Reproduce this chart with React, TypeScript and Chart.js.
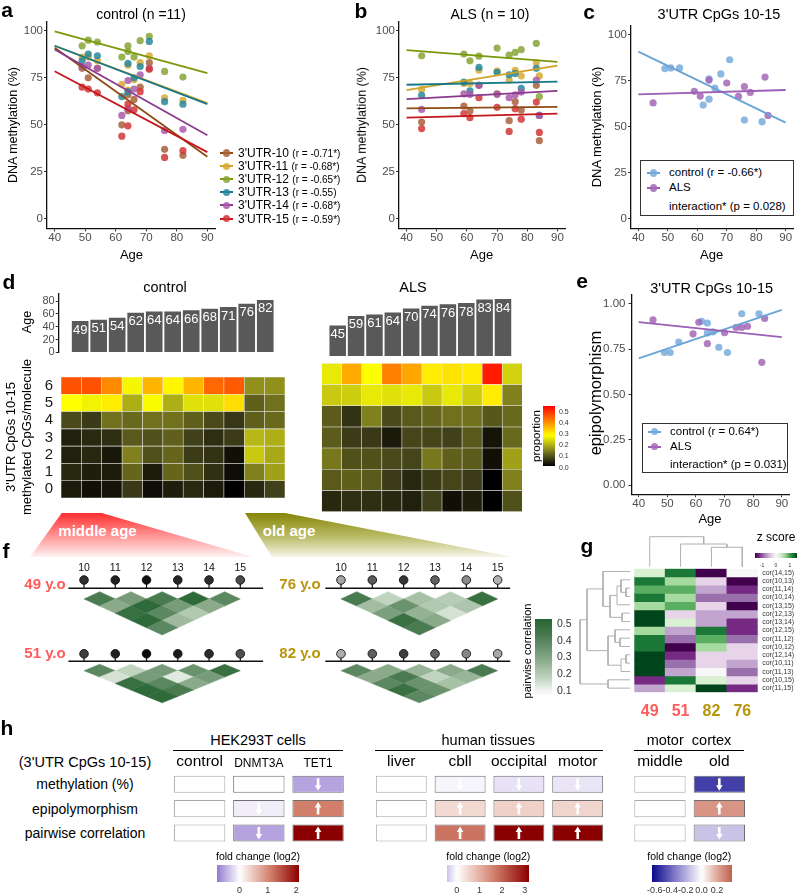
import React, { useEffect, useRef } from 'react';
import { Chart, registerables } from 'chart.js';

Chart.register(...registerables);

const FONT = "'Liberation Sans', Arial, Helvetica, sans-serif";

/* ======================= DATA ======================= */
// panels a / b : methylation per CpG
const cpgLabels = ["3'UTR-10", "3'UTR-11", "3'UTR-12", "3'UTR-13", "3'UTR-14", "3'UTR-15"];
const cpgCorr = ['(r = -0.71*)', '(r = -0.68*)', '(r = -0.65*)', '(r = -0.55)', '(r = -0.68*)', '(r = -0.59*)'];
const controlAges = [49, 51, 54, 62, 64, 64, 66, 68, 71, 76, 82];
const alsAges = [45, 59, 61, 64, 70, 74, 76, 78, 83, 84];
const ctrlCpg10 = [80, 75, 80, 50, 66, 57.5, 63.5, 70, 83, 37, 33.8];
const ctrlCpg11 = [86, 86, 84, 71.5, 81.6, 68.5, 74, 83, 86.7, 64.4, 63];
const ctrlCpg12 = [92, 95, 94, 86, 92, 89, 86, 94.7, 97, 78.4, 75.4];
const ctrlCpg13 = [84, 87.6, 86.7, 65, 82.6, 67.6, 75, 81, 94.3, 62.3, 61];
const ctrlCpg14 = [81, 81.8, 80, 55, 73.5, 58.6, 69, 76.6, 80, 47, 47.6];
const ctrlCpg15 = [70, 69, 67, 44, 61, 49.5, 58, 67.6, 79.5, 32.7, 36.3];
const alsCpg10 = [51.5, 60, 57.3, 71, 66.5, 52.2, 62.3, 57.9, 71, 41.6];
const alsCpg11 = [68.8, 72, 72, 79, 78.6, 73.8, 79, 76, 83, 76];
const alsCpg12 = [86.7, 87.6, 84, 86.5, 90.8, 87, 88.5, 90, 93.3, 65];
const alsCpg13 = [65.7, 72.7, 68, 80.5, 77.9, 76.6, 77.3, 69.4, 80, 55];
const alsCpg14 = [58.2, 66.4, 66.2, 71, 66.2, 64.4, 66, 67.4, 73.8, 55];
const alsCpg15 = [48, 56, 53.8, 64.4, 59.3, 46.5, 58.6, 53, 62.1, 46];
const ctrlFitAt40 = [91, 92, 99.7, 92, 90, 78.5];
const ctrlFitAt90 = [33, 61.5, 77.5, 61, 44.5, 35.5];
const alsFitAt40 = [58.8, 68.5, 89.7, 71.3, 63.7, 53.8];
const alsFitAt90 = [59.5, 81.5, 83.5, 73, 68, 56];
const ageTicks = [40, 50, 60, 70, 80, 90];
const pctTicks = [0, 25, 50, 75, 100];

// panel c : mean methylation CpGs 10-15
const ctrlMeanMeth = [81.6, 82, 82, 61.8, 76, 65, 71, 78.7, 86.4, 53.7, 52.8];
const alsMeanMeth = [63, 69.3, 66.7, 75.4, 73.8, 66.5, 71.8, 68.7, 77, 56.2];
const methFitAt40 = [90.8, 67.6];
const methFitAt90 = [52.3, 70];
const cLegend = ['control (r = -0.66*)', 'ALS', 'interaction* (p = 0.028)'];

// panel e : epipolymorphism
const ctrlEpi = [0.732, 0.732, 0.79, 0.904, 0.895, 0.84, 0.846, 0.761, 0.732, 0.946, 0.946];
const alsEpi = [0.912, 0.835, 0.899, 0.781, 0.841, 0.87, 0.87, 0.877, 0.678, 0.92];
const epiFitAt40 = [0.7, 0.9];
const epiFitAt90 = [0.967, 0.817];
const epiTicks = [0, 0.25, 0.5, 0.75, 1];
const eLegend = ['control (r = 0.64*)', 'ALS', 'interaction* (p = 0.031)'];

// panel d : methylated CpGs / molecule proportions (rows 0..6)
const barTicks = [0, 20, 40, 60, 80];
const molRows = [0, 1, 2, 3, 4, 5, 6];
const ctrlProp = [
  [0.03, 0.018, 0.022, 0.062, 0.014, 0.033, 0.045, 0.03, 0.0, 0.044, 0.07],
  [0.044, 0.033, 0.03, 0.11, 0.03, 0.11, 0.088, 0.053, 0.015, 0.14, 0.175],
  [0.035, 0.044, 0.027, 0.14, 0.088, 0.11, 0.065, 0.055, 0.018, 0.22, 0.185],
  [0.035, 0.045, 0.05, 0.097, 0.088, 0.105, 0.07, 0.05, 0.065, 0.2, 0.19],
  [0.08, 0.063, 0.123, 0.115, 0.123, 0.123, 0.105, 0.08, 0.06, 0.105, 0.115],
  [0.28, 0.265, 0.3, 0.19, 0.275, 0.19, 0.245, 0.245, 0.315, 0.105, 0.123],
  [0.465, 0.465, 0.404, 0.27, 0.36, 0.29, 0.36, 0.44, 0.455, 0.158, 0.158],
];
const alsProp = [
  [0.044, 0.05, 0.05, 0.044, 0.035, 0.07, 0.018, 0.033, 0.0, 0.088],
  [0.097, 0.105, 0.097, 0.065, 0.044, 0.065, 0.075, 0.065, 0.0, 0.14],
  [0.13, 0.088, 0.088, 0.08, 0.075, 0.13, 0.105, 0.1, 0.018, 0.175],
  [0.1, 0.065, 0.062, 0.028, 0.075, 0.075, 0.07, 0.097, 0.022, 0.115],
  [0.1, 0.055, 0.14, 0.08, 0.097, 0.11, 0.123, 0.123, 0.095, 0.115],
  [0.22, 0.225, 0.255, 0.245, 0.255, 0.22, 0.255, 0.225, 0.3, 0.14],
  [0.255, 0.37, 0.28, 0.415, 0.375, 0.3, 0.31, 0.3, 0.52, 0.23],
];
const propTicks = [0, 0.1, 0.2, 0.3, 0.4, 0.5];

// panel f : pairwise correlations
const cpgNums = [10, 11, 12, 13, 14, 15];
const cpgPairs = [[10, 11], [11, 12], [12, 13], [13, 14], [14, 15], [10, 12], [11, 13], [12, 14], [13, 15], [10, 13], [11, 14], [12, 15], [10, 14], [11, 15], [10, 15]];
const corr49 = [0.42, 0.32, 0.42, 0.5, 0.38, 0.28, 0.5, 0.32, 0.28, 0.47, 0.38, 0.2, 0.5, 0.24, 0.38];
const corr51 = [0.38, 0.17, 0.32, 0.35, 0.47, 0.14, 0.32, 0.12, 0.32, 0.47, 0.38, 0.28, 0.5, 0.42, 0.5];
const corr76 = [0.42, 0.17, 0.22, 0.19, 0.47, 0.23, 0.35, 0.2, 0.21, 0.31, 0.26, 0.14, 0.47, 0.28, 0.42];
const corr82 = [0.38, 0.28, 0.25, 0.28, 0.42, 0.28, 0.42, 0.17, 0.25, 0.38, 0.35, 0.22, 0.47, 0.35, 0.38];
const corrTicks = [0.1, 0.2, 0.3, 0.4, 0.5];

// panel g : z scores
const gColLabels = ['49', '51', '82', '76'];
const gRowLabels = ['cor(14,15)', 'cor(10,13)', 'cor(11,14)', 'cor(10,14)', 'cor(13,15)', 'cor(12,13)', 'cor(13,14)', 'cor(12,15)', 'cor(11,12)', 'cor(10,12)', 'cor(12,14)', 'cor(10,11)', 'cor(11,13)', 'cor(10,15)', 'cor(11,15)'];
const z49 = [0.3, 1.2, 0.9, 1.2, 0.6, 1.5, 1.5, 0.6, 1.2, 1.2, 1.5, 1.5, 1.5, -1.2, -0.6];
const z51 = [1.2, 0.6, 0.9, 0.6, 0.9, -0.3, 0.3, -0.6, -0.9, -1.5, -1.2, -0.9, -0.6, 1.2, 0.3];
const z82 = [-1.5, -0.3, -0.6, -0.9, -0.3, -0.6, -0.6, 1.2, 0.9, 0.6, -0.3, -0.3, 0.0, 0.3, 1.5];
const z76 = [0.0, -1.5, -1.2, -0.9, -1.5, -0.6, -1.2, -1.2, -0.9, -0.3, -0.3, -0.6, -0.9, -0.3, -1.2];
const gColMerges = [[2, 3, 1.94], [1, 4, 2.27], [0, 5, 3.0]];
const gRowMerges = [[2, 3, 0.4], [1, 15, 0.9], [4, 16, 1.3], [5, 6, 0.8], [17, 18, 2.0], [0, 19, 2.7], [10, 11, 0.4], [12, 21, 0.9], [8, 9, 1.0], [7, 23, 1.5], [24, 22, 2.2], [20, 25, 4.3], [13, 14, 2.2], [26, 27, 5.0]];
const zTicks = [-1, 0, 1];

// panel h : fold changes (log2)
const hRowLabels = ['methylation (%)', 'epipolymorphism', 'pairwise correlation'];
const hekCols = ['control', 'DNMT3A', 'TET1'];
const hekMeth = [0, 0.01, -0.55];
const hekEpi = [0, -0.1, 1.1];
const hekPair = [0, -0.55, 2.1];
const tisCols = ['liver', 'cbll', 'occipital', 'motor'];
const tisMeth = [0, -0.07, -0.2, -0.18];
const tisEpi = [0, 0.5, 0.6, 0.55];
const tisPair = [0, 1.8, 3.2, 3.2];
const motCols = ['middle', 'old'];
const motMeth = [0, -0.5];
const motEpi = [0, 0.25];
const motPair = [0, -0.15];
const hekTicks = [0, 1, 2];
const tisTicks = [0, 1, 2, 3];
const motTicks = [-0.6, -0.4, -0.2, 0, 0.2];

/* ======================= STYLE ======================= */
const cpgLineColors = ['#8f4b16', '#d1a325', '#7a980b', '#17788a', '#8b3a8e', '#c4161c'];
const cpgDotColors = ['rgba(168,98,60,0.85)', 'rgba(215,170,50,0.85)', 'rgba(135,165,55,0.85)', 'rgba(40,135,155,0.85)', 'rgba(170,90,170,0.85)', 'rgba(210,55,55,0.85)'];
const grpLineColors = ['#6aa4d7', '#9b5fb5'];
const grpDotColors = ['rgba(120,172,220,0.85)', 'rgba(163,103,183,0.85)'];
const propStops: [number, string][] = [[0, '#000000'], [0.035, '#20200e'], [0.07, '#40401a'], [0.14, '#80801e'], [0.21, '#c0c014'], [0.28, '#ffff00'], [0.415, '#ff8000'], [0.55, '#ff0000']];
const corrStops: [number, string][] = [[0.06, '#ffffff'], [0.1, '#eef3ee'], [0.17, '#c0d4c0'], [0.28, '#8aaa8a'], [0.42, '#4a7a50'], [0.5, '#2e6a3a'], [0.55, '#1d5a2c']];
const zStops: [number, string][] = [[-1.5, '#40004b'], [-1.2, '#762a83'], [-0.9, '#9970ab'], [-0.6, '#c2a5cf'], [-0.3, '#e7d4e8'], [0, '#f7f7f7'], [0.3, '#d9f0d3'], [0.6, '#a6dba0'], [0.9, '#5aae61'], [1.2, '#1b7837'], [1.5, '#00441b']];
const hekStops: [number, string][] = [[-0.8, '#9279cf'], [0, '#ffffff'], [1.05, '#d48470'], [2.1, '#8b0000']];
const tisStops: [number, string][] = [[-0.42, '#cdc3eb'], [0, '#ffffff'], [1.6, '#d48470'], [3.2, '#8b0000']];
const motStops: [number, string][] = [[-0.64, '#0a0a8c'], [-0.32, '#8b82cc'], [0, '#ffffff'], [0.2, '#e0a898'], [0.39, '#c0604f']];
const gColColors = ['#ff5b5b', '#ff5b5b', '#b8950b', '#b8950b'];
const hekColSizes = [15.5, 12, 12];

/* ======================= HELPERS ======================= */
function hex(c: string) { const n = parseInt(c.slice(1), 16); return [(n >> 16) & 255, (n >> 8) & 255, n & 255]; }
function ramp(stops: [number, string][], v: number): string {
  if (v <= stops[0][0]) return stops[0][1];
  for (let i = 1; i < stops.length; i++) {
    if (v <= stops[i][0]) {
      const [v0, c0] = stops[i - 1];
      const [v1, c1] = stops[i];
      const t = (v - v0) / (v1 - v0);
      const a = hex(c0), b = hex(c1);
      return `rgb(${a.map((x, j) => Math.round(x + (b[j] - x) * t)).join(',')})`;
    }
  }
  return stops[stops.length - 1][1];
}
const greyOf = (m: number) => { const g = Math.max(0, Math.min(235, Math.round(265 - m * 2.7))); return `rgb(${g},${g},${g})`; };

type Box = { x: number; y: number; w: number; h: number };
type Area = { l: number; t: number; r: number; b: number };
type Side = 'left' | 'right' | 'top' | 'bottom';

// The chart area is fixed: displayed axes get exactly the band between canvas edge and area.
const base = (box: Box, a: Area, sides: Side[] = []) => {
  const p: any = { left: a.l - box.x, top: a.t - box.y, right: box.x + box.w - a.r, bottom: box.y + box.h - a.b };
  sides.forEach((s) => { p[s] = 0; });
  return {
    responsive: false,
    animation: false,
    events: [],
    layout: { padding: p },
    plugins: { legend: { display: false }, tooltip: { enabled: false } },
  };
};
const fitSide = (box: Box, a: Area, side: Side) => (s: any) => {
  if (side === 'left') s.width = a.l - box.x;
  else if (side === 'right') s.width = box.x + box.w - a.r;
  else if (side === 'top') s.height = a.t - box.y;
  else s.height = box.y + box.h - a.b;
};
function axisOpts(min: number, max: number, ticks: number[], fmt: (v: number) => string, pad: number, fit: (s: any) => void, size = 11.5) {
  return {
    type: 'linear', min, max, afterFit: fit,
    afterBuildTicks: (s: any) => { s.ticks = ticks.map((value) => ({ value })); },
    ticks: { callback: (v: any) => fmt(Number(v)), font: { family: FONT, size }, color: '#4d4d4d', padding: pad, autoSkip: false, maxRotation: 0 },
    grid: { display: true, drawOnChartArea: false, drawTicks: true, tickLength: 3, color: '#333', lineWidth: 1 },
    border: { display: true, color: '#111', width: 1.3 },
  };
}

function fitChart(box: Box, area: Area, xsList: number[][], ysList: number[][], f40: number[], f90: number[], lineCols: string[], dotCols: string[], yMin: number, yMax: number, yTicks: number[], yDigits: number, yPad: number) {
  const lines: any[] = [];
  const pts: any[] = [];
  for (let k = ysList.length - 1; k >= 0; k--) {
    lines.push({ data: [{ x: 40, y: f40[k] }, { x: 90, y: f90[k] }], showLine: true, borderColor: lineCols[k], borderWidth: 1.8, pointRadius: 0, clip: false });
    pts.push({ data: xsList[k].map((x, i) => ({ x, y: ysList[k][i] })), showLine: false, pointRadius: 3.6, backgroundColor: dotCols[k], pointBackgroundColor: dotCols[k], pointBorderWidth: 0, borderWidth: 0, clip: false });
  }
  return {
    type: 'scatter',
    data: { datasets: [...lines, ...pts] },
    options: {
      ...base(box, area, ['left', 'bottom']),
      scales: {
        x: axisOpts(37.5, 92.5, ageTicks, (v) => String(v), 0, fitSide(box, area, 'bottom')),
        y: axisOpts(yMin, yMax, yTicks, (v) => v.toFixed(yDigits), yPad, fitSide(box, area, 'left')),
      },
    },
  };
}

const barLabelPlugin = {
  id: 'barLabels',
  afterDatasetsDraw(chart: any) {
    const ctx = chart.ctx;
    const meta = chart.getDatasetMeta(0);
    const ds = chart.data.datasets[0];
    ctx.save();
    ctx.fillStyle = '#ffffff';
    ctx.font = `13px ${FONT}`;
    ctx.textAlign = 'center';
    ctx.textBaseline = 'middle';
    meta.data.forEach((el: any, i: number) => ctx.fillText(String(ds.data[i].y), el.x, el.y + 9));
    ctx.restore();
  },
};

function ageBars(box: Box, area: Area, ages: number[], showAxis: boolean) {
  return {
    type: 'bar',
    data: { datasets: [{ data: ages.map((a, i) => ({ x: i + 1, y: a })), backgroundColor: '#595959', barPercentage: 0.9, categoryPercentage: 1, borderWidth: 0 }] },
    options: {
      ...base(box, area, showAxis ? ['left'] : []),
      scales: {
        x: { type: 'linear', min: 0.4, max: ages.length + 0.6, display: false, afterBuildTicks: (s: any) => { s.ticks = ages.map((_, i) => ({ value: i + 1 })); } },
        y: showAxis ? axisOpts(0, 92.3, barTicks, (v) => String(v), 1, fitSide(box, area, 'left'), 11) : { type: 'linear', min: 0, max: 92.3, display: false },
      },
    },
    plugins: [barLabelPlugin],
  };
}

function propHeat(box: Box, area: Area, ages: number[], prop: number[][], showLabels: boolean) {
  return {
    type: 'bar',
    data: {
      labels: ages.map(String),
      datasets: molRows.map((r) => ({
        data: ages.map(() => [r - 0.5, r + 0.5]),
        backgroundColor: prop[r].map((v) => ramp(propStops, v)),
        borderColor: 'rgba(225,225,225,0.45)', borderWidth: 0.6, borderSkipped: false,
        grouped: false, barPercentage: 1, categoryPercentage: 1,
      })),
    },
    options: {
      ...base(box, area, showLabels ? ['left'] : []),
      scales: {
        x: { type: 'category', offset: true, display: false },
        y: {
          type: 'linear', min: -0.5, max: 6.5, display: showLabels, afterFit: fitSide(box, area, 'left'),
          afterBuildTicks: (s: any) => { s.ticks = molRows.map((value) => ({ value })); },
          ticks: { callback: (v: any) => String(v), font: { family: FONT, size: 15 }, color: '#1a1a1a', padding: 8, autoSkip: false },
          grid: { display: false, drawTicks: false }, border: { display: false },
        },
      },
    },
  };
}

const diamondPlugin = (pairs: number[][], vals: number[]) => ({
  id: 'diamonds',
  afterDatasetsDraw(chart: any) {
    const { ctx, scales } = chart;
    const sx = scales.x, sy = scales.y;
    ctx.save();
    pairs.forEach(([i, j], k) => {
      const xc = (i + j) / 2, d = j - i;
      const pts = [[xc - 0.5, -d], [xc, -d + 1], [xc + 0.5, -d], [xc, -d - 1]];
      ctx.beginPath();
      pts.forEach(([px, py], m) => {
        const X = sx.getPixelForValue(px), Y = sy.getPixelForValue(py);
        if (m) ctx.lineTo(X, Y); else ctx.moveTo(X, Y);
      });
      ctx.closePath();
      const col = ramp(corrStops, vals[k]);
      ctx.fillStyle = col; ctx.fill();
      ctx.strokeStyle = col; ctx.lineWidth = 0.5; ctx.stroke();
    });
    ctx.restore();
  },
});

const CIRCLE_Y = 1.625, LINE_Y = 0.47;
function lollipop(box: Box, area: Area, xMax: number, meth: number[], corr: number[], showNums: boolean) {
  const datasets: any[] = [];
  datasets.push({ data: cpgNums.map((c) => ({ x: c, y: CIRCLE_Y })), showLine: false, pointRadius: 4.3, pointBackgroundColor: meth.map(greyOf), pointBorderColor: '#111', pointBorderWidth: 0.9, clip: false });
  cpgNums.forEach((c) => datasets.push({ data: [{ x: c, y: CIRCLE_Y }, { x: c, y: LINE_Y }], showLine: true, borderColor: '#111', borderWidth: 1.2, pointRadius: 0, clip: false }));
  datasets.push({ data: [{ x: 9.5, y: LINE_Y }, { x: xMax, y: LINE_Y }], showLine: true, borderColor: '#111', borderWidth: 1.4, pointRadius: 0, clip: false });
  return {
    type: 'scatter',
    data: { datasets },
    options: {
      ...base(box, area, showNums ? ['top'] : []),
      scales: {
        x: {
          type: 'linear', min: 9.5, max: xMax, position: 'top', display: showNums, afterFit: fitSide(box, area, 'top'),
          afterBuildTicks: (s: any) => { s.ticks = cpgNums.map((value) => ({ value })); },
          ticks: { callback: (v: any) => String(v), font: { family: FONT, size: 10.5 }, color: '#111', padding: 0, autoSkip: false, maxRotation: 0 },
          grid: { display: false, drawTicks: false }, border: { display: false },
        },
        y: { type: 'linear', min: -6.3, max: 2.4, display: false },
      },
    },
    plugins: [diamondPlugin(cpgPairs, corr)],
  };
}

function zHeat(box: Box, area: Area) {
  const cols = [z49, z51, z82, z76];
  return {
    type: 'bar',
    data: {
      labels: gColLabels,
      datasets: gRowLabels.map((_, r) => ({
        data: gColLabels.map(() => [r - 0.5, r + 0.5]),
        backgroundColor: cols.map((c) => ramp(zStops, c[r])),
        borderWidth: 0, grouped: false, barPercentage: 1, categoryPercentage: 1,
      })),
    },
    options: {
      ...base(box, area, ['bottom', 'right']),
      scales: {
        x: {
          type: 'category', offset: true, afterFit: fitSide(box, area, 'bottom'),
          ticks: { font: { family: FONT, size: 16, weight: 'bold' }, color: (c: any) => gColColors[c.index], padding: 10, autoSkip: false, maxRotation: 0 },
          grid: { display: false, drawTicks: false }, border: { display: false },
        },
        y: {
          type: 'linear', min: -0.5, max: 14.5, reverse: true, position: 'right', afterFit: fitSide(box, area, 'right'),
          afterBuildTicks: (s: any) => { s.ticks = gRowLabels.map((_, i) => ({ value: i })); },
          ticks: { callback: (v: any) => gRowLabels[Number(v)], font: { family: FONT, size: 7 }, color: '#333', padding: 4.5, autoSkip: false },
          grid: { display: false, drawTicks: false }, border: { display: false },
        },
      },
    },
  };
}

function dendroSegs(merges: number[][], n: number) {
  const pos: number[] = [], ht: number[] = [];
  for (let i = 0; i < n; i++) { pos[i] = i; ht[i] = 0; }
  return merges.map(([a, b, h], k) => {
    pos[n + k] = (pos[a] + pos[b]) / 2; ht[n + k] = h;
    return [[pos[a], ht[a]], [pos[a], h], [pos[b], h], [pos[b], ht[b]]];
  });
}
function dendro(box: Box, area: Area, merges: number[][], n: number, horizontal: boolean, maxH: number) {
  const segs = dendroSegs(merges, n);
  const datasets = segs.map((s) => ({
    data: s.map(([p, h]) => (horizontal ? { x: h, y: p } : { x: p, y: h })),
    showLine: true, borderColor: '#b0b0b0', borderWidth: 1, pointRadius: 0, clip: false,
  }));
  return {
    type: 'scatter',
    data: { datasets },
    options: {
      ...base(box, area),
      scales: horizontal
        ? { x: { type: 'linear', min: 0, max: maxH, reverse: true, display: false }, y: { type: 'linear', min: -0.5, max: n - 0.5, reverse: true, display: false } }
        : { x: { type: 'linear', min: -0.5, max: n - 0.5, display: false }, y: { type: 'linear', min: 0, max: maxH, display: false } },
    },
  };
}

const arrowPlugin = (rows: number[][]) => ({
  id: 'arrows',
  afterDatasetsDraw(chart: any) {
    const ctx = chart.ctx;
    ctx.save();
    ctx.fillStyle = '#ffffff';
    rows.forEach((vals, r) => {
      const meta = chart.getDatasetMeta(r);
      meta.data.forEach((el: any, i: number) => {
        const v = vals[i];
        if (Math.abs(v) < 0.05) return;
        const cx = el.x, cy = (el.y + el.base) / 2, d = v > 0 ? -1 : 1;
        ctx.beginPath();
        ctx.moveTo(cx - 1.3, cy - d * 6);
        ctx.lineTo(cx + 1.3, cy - d * 6);
        ctx.lineTo(cx + 1.3, cy + d * 1);
        ctx.lineTo(cx + 3.3, cy + d * 1);
        ctx.lineTo(cx, cy + d * 6.5);
        ctx.lineTo(cx - 3.3, cy + d * 1);
        ctx.lineTo(cx - 1.3, cy + d * 1);
        ctx.closePath();
        ctx.fill();
      });
    });
    ctx.restore();
  },
});

function foldBoxes(box: Box, area: Area, cols: string[], rows: number[][], stops: [number, string][], bp: number, sizes?: number[]) {
  return {
    type: 'bar',
    data: {
      labels: cols,
      datasets: rows.map((vals, r) => ({
        data: cols.map(() => [r - 0.35, r + 0.35]),
        backgroundColor: vals.map((v) => ramp(stops, v)),
        borderColor: vals.map((v) => (v === 0 ? '#a8a8a8' : '#6e6e6e')),
        borderWidth: 1, borderSkipped: false, grouped: false, barPercentage: bp, categoryPercentage: 1,
      })),
    },
    options: {
      ...base(box, area, ['top']),
      scales: {
        x: {
          type: 'category', offset: true, position: 'top', afterFit: fitSide(box, area, 'top'),
          ticks: { font: (c: any) => ({ family: FONT, size: sizes ? sizes[c.index] : 15.5 }), color: '#000', padding: 1, autoSkip: false, maxRotation: 0 },
          grid: { display: false, drawTicks: false }, border: { display: false },
        },
        y: { type: 'linear', min: -0.5, max: 2.5, reverse: true, display: false },
      },
    },
    plugins: [arrowPlugin(rows)],
  };
}

/* ======================= COMPONENTS ======================= */
function ChartBox({ box, make }: { box: Box; make: () => any }) {
  const ref = useRef<HTMLCanvasElement>(null);
  useEffect(() => {
    const chart = new Chart(ref.current as HTMLCanvasElement, make());
    return () => chart.destroy();
  }, []);
  return <canvas ref={ref} width={box.w} height={box.h} style={{ position: 'absolute', left: box.x, top: box.y, width: box.w, height: box.h, display: 'block' }} />;
}

function T({ x, y, s = 14, b = false, c = '#000', r = 0, a = 'c', children, ls }: any) {
  const tx = a === 'c' ? '-50%' : a === 'l' ? '0%' : '-100%';
  return (
    <div style={{ position: 'absolute', left: x, top: y, fontSize: s, fontWeight: b ? 700 : 400, color: c, whiteSpace: 'nowrap', lineHeight: 1, fontFamily: FONT, letterSpacing: ls, transform: `translate(${tx},-50%) rotate(${r}deg)` }}>
      {children}
    </div>
  );
}

function CBar({ x, y, w, h, stops, lo, hi, vertical }: any) {
  const N = 32;
  const parts: string[] = [];
  for (let i = 0; i <= N; i++) {
    const v = lo + ((hi - lo) * i) / N;
    parts.push(`${ramp(stops, v)} ${((i / N) * 100).toFixed(1)}%`);
  }
  return <div style={{ position: 'absolute', left: x, top: y, width: w, height: h, background: `linear-gradient(${vertical ? 'to top' : 'to right'}, ${parts.join(',')})` }} />;
}

function Key({ x, y, color, dot }: any) {
  return (
    <>
      <div style={{ position: 'absolute', left: x, top: y - 1, width: 13, height: 2, background: color }} />
      <div style={{ position: 'absolute', left: x + 3, top: y - 3.6, width: 7.2, height: 7.2, borderRadius: '50%', background: dot }} />
    </>
  );
}

/* ======================= LAYOUT ======================= */
const BOX_A = { x: 0, y: 0, w: 222, h: 250 }, AREA_A = { l: 47, t: 21.3, r: 215, b: 228.4 };
const BOX_B = { x: 355, y: 0, w: 215, h: 250 }, AREA_B = { l: 399, t: 21.3, r: 565, b: 228.4 };
const BOX_C = { x: 598, y: 0, w: 199, h: 250 }, AREA_C = { l: 631, t: 25.5, r: 795, b: 228.2 };
const BOX_E = { x: 590, y: 285, w: 207, h: 225 }, AREA_E = { l: 631.5, t: 291.5, r: 789, b: 494.2 };

export default function App() {
  const ctrlCpg = [ctrlCpg10, ctrlCpg11, ctrlCpg12, ctrlCpg13, ctrlCpg14, ctrlCpg15];
  const alsCpg = [alsCpg10, alsCpg11, alsCpg12, alsCpg13, alsCpg14, alsCpg15];
  const methAt = (age: number) => ctrlCpg.map((s) => s[controlAges.indexOf(age)]);
  const propY = (v: number) => 466.5 - v * 110.6;
  const corrY = (v: number) => 690 - (v - 0.1) * 168;

  return (
    <div style={{ position: 'absolute', left: 0, top: 0, width: 797, height: 893, background: '#fff', overflow: 'hidden', fontFamily: FONT }}>
      {/* wedges */}
      <div style={{ position: 'absolute', left: 30, top: 513, width: 223, height: 44, clipPath: 'polygon(31.7px 0, 71.7px 0, 223px 44px, 0 44px)', background: 'linear-gradient(to bottom, #ff2e2e, #ff9a9a 55%, #fff3f3)' }} />
      <div style={{ position: 'absolute', left: 245, top: 513, width: 268, height: 44, clipPath: 'polygon(0 0, 40px 0, 268px 44px, 27px 44px)', background: 'linear-gradient(to bottom, #858506, #bcbc6a 55%, #f6f6ea)' }} />

      {/* panel a */}
      <ChartBox box={BOX_A} make={() => fitChart(BOX_A, AREA_A, ctrlCpg.map(() => controlAges), ctrlCpg, ctrlFitAt40, ctrlFitAt90, cpgLineColors, cpgDotColors, -5, 105, pctTicks, 0, 1)} />
      {/* panel b */}
      <ChartBox box={BOX_B} make={() => fitChart(BOX_B, AREA_B, alsCpg.map(() => alsAges), alsCpg, alsFitAt40, alsFitAt90, cpgLineColors, cpgDotColors, -5, 105, pctTicks, 0, 1)} />
      {/* panel c */}
      <ChartBox box={BOX_C} make={() => fitChart(BOX_C, AREA_C, [controlAges, alsAges], [ctrlMeanMeth, alsMeanMeth], methFitAt40, methFitAt90, grpLineColors, grpDotColors, -5, 105, pctTicks, 0, 1)} />
      {/* panel e */}
      <ChartBox box={BOX_E} make={() => fitChart(BOX_E, AREA_E, [controlAges, alsAges], [ctrlEpi, alsEpi], epiFitAt40, epiFitAt90, grpLineColors, grpDotColors, -0.05, 1.05, epiTicks, 2, 3)} />

      {/* panel d */}
      <ChartBox box={{ x: 30, y: 285, w: 262, h: 75 }} make={() => ageBars({ x: 30, y: 285, w: 262, h: 75 }, { l: 58.7, t: 293.3, r: 286.7, b: 356 }, controlAges, true)} />
      <ChartBox box={{ x: 310, y: 285, w: 220, h: 75 }} make={() => ageBars({ x: 310, y: 285, w: 220, h: 75 }, { l: 316.3, t: 293.3, r: 524.4, b: 356 }, alsAges, false)} />
      <ChartBox box={{ x: 35, y: 360, w: 255, h: 155 }} make={() => propHeat({ x: 35, y: 360, w: 255, h: 155 }, { l: 61, t: 363.3, r: 285, b: 511.7 }, controlAges, ctrlProp, true)} />
      <ChartBox box={{ x: 315, y: 360, w: 212, h: 155 }} make={() => propHeat({ x: 315, y: 360, w: 212, h: 155 }, { l: 318.3, t: 363.3, r: 522.3, b: 511.7 }, alsAges, alsProp, false)} />

      {/* panel f */}
      <ChartBox box={{ x: 60, y: 555, w: 212, h: 90 }} make={() => lollipop({ x: 60, y: 555, w: 212, h: 90 }, { l: 68.4, t: 574.4, r: 263.1, b: 637.1 }, 15.73, methAt(49), corr49, true)} />
      <ChartBox box={{ x: 60, y: 638, w: 212, h: 72 }} make={() => lollipop({ x: 60, y: 638, w: 212, h: 72 }, { l: 68.4, t: 643.4, r: 263.1, b: 706.1 }, 15.73, methAt(51), corr51, false)} />
      <ChartBox box={{ x: 318, y: 555, w: 200, h: 90 }} make={() => lollipop({ x: 318, y: 555, w: 200, h: 90 }, { l: 325.3, t: 574.4, r: 510.2, b: 637.1 }, 15.4, methAt(76), corr76, true)} />
      <ChartBox box={{ x: 318, y: 638, w: 200, h: 72 }} make={() => lollipop({ x: 318, y: 638, w: 200, h: 72 }, { l: 325.3, t: 643.4, r: 510.2, b: 706.1 }, 15.4, methAt(82), corr82, false)} />

      {/* panel g */}
      <ChartBox box={{ x: 630, y: 530, w: 135, h: 40 }} make={() => dendro({ x: 630, y: 530, w: 135, h: 40 }, { l: 634.3, t: 536.7, r: 757.7, b: 566.7 }, gColMerges, 4, false, 3.0)} />
      <ChartBox box={{ x: 575, y: 560, w: 60, h: 140 }} make={() => dendro({ x: 575, y: 560, w: 60, h: 140 }, { l: 580, t: 567.3, r: 630, b: 692.3 }, gRowMerges, 15, true, 5.0)} />
      <ChartBox box={{ x: 630, y: 560, w: 167, h: 165 }} make={() => zHeat({ x: 630, y: 560, w: 167, h: 165 }, { l: 634.3, t: 567.3, r: 757.7, b: 692.3 })} />

      {/* panel h */}
      <ChartBox box={{ x: 165, y: 750, w: 190, h: 100 }} make={() => foldBoxes({ x: 165, y: 750, w: 190, h: 100 }, { l: 170, t: 772, r: 347.7, b: 845.2 }, hekCols, [hekMeth, hekEpi, hekPair], hekStops, 0.867, hekColSizes)} />
      <ChartBox box={{ x: 365, y: 750, w: 250, h: 100 }} make={() => foldBoxes({ x: 365, y: 750, w: 250, h: 100 }, { l: 371.9, t: 772, r: 607.1, b: 845.2 }, tisCols, [tisMeth, tisEpi, tisPair], tisStops, 0.866)} />
      <ChartBox box={{ x: 625, y: 750, w: 130, h: 100 }} make={() => foldBoxes({ x: 625, y: 750, w: 130, h: 100 }, { l: 630.3, t: 772, r: 749, b: 845.2 }, motCols, [motMeth, motEpi, motPair], motStops, 0.865)} />

      {/* ---------- texts a/b/c ---------- */}
      <T x={7} y={8.5} s={21} b>a</T>
      <T x={361} y={9.5} s={21} b>b</T>
      <T x={589} y={10.5} s={21} b>c</T>
      <T x={141} y={14} s={14}>control (n =11)</T>
      <T x={490} y={14} s={14}>ALS (n = 10)</T>
      <T x={719} y={14} s={14.5}>3'UTR CpGs 10-15</T>
      <T x={12.5} y={125} s={12.5} r={-90}>DNA methylation (%)</T>
      <T x={361.5} y={125} s={12.5} r={-90}>DNA methylation (%)</T>
      <T x={596} y={127} s={13} r={-90}>DNA methylation (%)</T>
      <T x={131.5} y={254} s={13}>Age</T>
      <T x={481.7} y={254} s={13}>Age</T>
      <T x={711.7} y={254} s={13}>Age</T>
      {cpgLabels.map((lab, k) => (
        <React.Fragment key={lab}>
          <Key x={220} y={153 + k * 13.1} color={cpgLineColors[k]} dot={cpgDotColors[k]} />
          <T x={238} y={153 + k * 13.1} s={12} a="l">
            {lab} <span style={{ fontSize: 10 }}>{cpgCorr[k]}</span>
          </T>
        </React.Fragment>
      ))}
      <div style={{ position: 'absolute', left: 640, top: 160, width: 154, height: 56, border: '1px solid #333', background: '#fff', boxSizing: 'border-box' }} />
      <Key x={647} y={173} color={grpLineColors[0]} dot={grpDotColors[0]} />
      <Key x={647} y={188} color={grpLineColors[1]} dot={grpDotColors[1]} />
      <T x={669} y={173} s={11.5} a="l">{cLegend[0]}</T>
      <T x={669} y={188} s={11.5} a="l">{cLegend[1]}</T>
      <T x={669} y={207} s={11.5} a="l">{cLegend[2]}</T>

      {/* ---------- texts d ---------- */}
      <T x={9} y={281} s={21} b>d</T>
      <T x={165} y={287} s={14.5}>control</T>
      <T x={413} y={287} s={14.5}>ALS</T>
      <T x={27} y={322} s={12.5} r={-90}>Age</T>
      <T x={10} y={437} s={13} r={-90}>3'UTR CpGs 10-15</T>
      <T x={26} y={437} s={13} r={-90}>methylated CpGs/molecule</T>
      <CBar x={543} y={propY(0.55)} w={12} h={propY(0) - propY(0.55)} stops={propStops} lo={0} hi={0.55} vertical />
      {propTicks.map((v) => (
        <T key={v} x={559} y={propY(v)} s={7} c="#333" a="l">{v.toFixed(1)}</T>
      ))}
      <T x={537} y={436} s={11.5} r={-90}>proportion</T>

      {/* ---------- texts e ---------- */}
      <T x={582} y={280} s={21} b>e</T>
      <T x={711.7} y={288} s={14.5}>3'UTR CpGs 10-15</T>
      <T x={595} y={393} s={16.5} r={-90}>epipolymorphism</T>
      <T x={710} y={518} s={13}>Age</T>
      <div style={{ position: 'absolute', left: 642, top: 423, width: 146, height: 50, border: '1px solid #333', background: '#fff', boxSizing: 'border-box' }} />
      <Key x={648} y={431.7} color={grpLineColors[0]} dot={grpDotColors[0]} />
      <Key x={648} y={446.7} color={grpLineColors[1]} dot={grpDotColors[1]} />
      <T x={670} y={431.7} s={11.5} a="l">{eLegend[0]}</T>
      <T x={670} y={446.7} s={11.5} a="l">{eLegend[1]}</T>
      <T x={670} y={465} s={11.5} a="l">{eLegend[2]}</T>

      {/* ---------- texts f ---------- */}
      <T x={97.5} y={530} s={15} b c="#fff">middle age</T>
      <T x={289} y={530} s={15} b c="#fff">old age</T>
      <T x={6} y={550} s={21} b>f</T>
      <T x={45} y={583} s={15} b c="#ff5b5b">49 y.o</T>
      <T x={45} y={652} s={15} b c="#ff5b5b">51 y.o</T>
      <T x={300} y={583} s={15} b c="#b8950b">76 y.o</T>
      <T x={300} y={652} s={15} b c="#b8950b">82 y.o</T>
      <CBar x={535} y={corrY(0.52)} w={17} h={corrY(0.06) - corrY(0.52)} stops={corrStops} lo={0.06} hi={0.52} vertical />
      {corrTicks.map((v) => (
        <T key={v} x={557} y={corrY(v)} s={10.5} c="#333" a="l">{v.toFixed(1)}</T>
      ))}
      <T x={526.5} y={651} s={11} r={-90}>pairwise correlation</T>

      {/* ---------- texts g ---------- */}
      <T x={587} y={545} s={21} b>g</T>
      <T x={776} y={537} s={12}>z score</T>
      <CBar x={755} y={552.7} w={42} h={5.6} stops={zStops} lo={-1.5} hi={1.5} />
      {zTicks.map((v) => (
        <T key={v} x={755 + ((v + 1.5) / 3) * 42} y={565} s={5} c="#333">{String(v)}</T>
      ))}

      {/* ---------- texts h ---------- */}
      <T x={7} y={727} s={21} b>h</T>
      <T x={85} y={761.7} s={14.5}>(3'UTR CpGs 10-15)</T>
      {hRowLabels.map((lab, i) => (
        <T key={lab} x={85} y={784.2 + i * 24.4} s={14}>{lab}</T>
      ))}
      <T x={258} y={740} s={14.5}>HEK293T cells</T>
      <T x={488.3} y={740} s={14.5}>human tissues</T>
      <T x={689} y={740} s={14.5}>motor&nbsp;&nbsp;cortex</T>
      <div style={{ position: 'absolute', left: 173.3, top: 749.5, width: 170, height: 1.2, background: '#000' }} />
      <div style={{ position: 'absolute', left: 375, top: 749.5, width: 228.3, height: 1.2, background: '#000' }} />
      <div style={{ position: 'absolute', left: 634.3, top: 749.5, width: 110, height: 1.2, background: '#000' }} />
      <T x={258} y={855.7} s={10.5}>fold change (log2)</T>
      <T x={488.3} y={855.7} s={10.5}>fold change (log2)</T>
      <T x={689.3} y={855.7} s={10.5}>fold change (log2)</T>
      <CBar x={216.7} y={865} w={82.3} h={16.7} stops={hekStops} lo={-0.8} hi={2.1} />
      <CBar x={447.3} y={865} w={82} h={16.7} stops={tisStops} lo={-0.42} hi={3.2} />
      <CBar x={651.7} y={865} w={80} h={16.7} stops={motStops} lo={-0.64} hi={0.39} />
      {hekTicks.map((v) => (
        <T key={'h' + v} x={216.7 + (v + 0.8) * 28.38} y={890} s={9} c="#333">{String(v)}</T>
      ))}
      {tisTicks.map((v) => (
        <T key={'t' + v} x={447.3 + (v + 0.42) * 22.65} y={890} s={9} c="#333">{String(v)}</T>
      ))}
      {motTicks.map((v) => (
        <T key={'m' + v} x={651.7 + (v + 0.64) * 77.67} y={890} s={9} c="#333">{v.toFixed(1)}</T>
      ))}
    </div>
  );
}
